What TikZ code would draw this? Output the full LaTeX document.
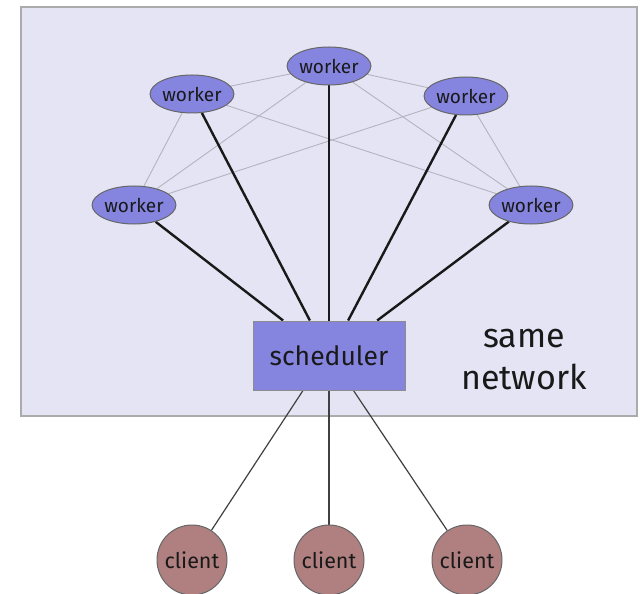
\documentclass[tikz,border=0pt]{standalone}
\usepackage{fontspec}
\setmainfont{Fira Sans}
\usetikzlibrary{shapes.geometric,calc}
\pgfdeclarelayer{links}
\pgfsetlayers{links,main}
\definecolor{netbg}{HTML}{E4E4F4}
\definecolor{netborder}{HTML}{ABABAB}
\definecolor{workerfill}{HTML}{8585E0}
\definecolor{clientfill}{HTML}{B08080}
\definecolor{meshline}{HTML}{B4B4C0}
\begin{document}
\begin{tikzpicture}[x=1pt,y=-1pt,
  network/.style={draw=netborder,line width=2pt,fill=netbg},
  workernode/.style={ellipse,draw=black!60,line width=1pt,fill=workerfill,inner sep=0pt,
    minimum width=70pt,minimum height=38pt,font=\fontsize{19}{19}\selectfont,text=black!90},
  schednode/.style={rectangle,draw=black!45,line width=1pt,fill=workerfill,inner sep=0pt,
    minimum width=152pt,minimum height=69pt,font=\fontsize{26.5}{26.5}\selectfont,text=black!90},
  clientnode/.style={circle,draw=black!60,line width=1pt,fill=clientfill,inner sep=0pt,
    minimum size=70pt,font=\fontsize{21.5}{21.5}\selectfont,text=black!90},
  labeltext/.style={align=center,font=\fontsize{34}{42}\selectfont,text=black!90},
  mesh/.style={draw=meshline,line width=0.9pt},
  spoke/.style={draw=black!90,line width=2.4pt},
  clientlink/.style={draw=black!75,line width=1.2pt}]
\useasboundingbox (0,0) rectangle (641,594);
\begin{pgfonlayer}{links}
\draw[network] (21,7) rectangle (637,416);
\end{pgfonlayer}
\node[workernode] (wt) at (329,66) {worker};
\node[workernode] (wl) at (192,94) {worker};
\node[workernode] (wr) at (466,96) {worker};
\node[workernode] (wfl) at (134,205) {worker};
\node[workernode] (wfr) at (531,205) {worker};
\node[schednode] (s) at (329,355.5) {scheduler};
\node[labeltext] (lbl) at (524,360) {same\\network};
\node[clientnode] (c1) at (192,560) {client};
\node[clientnode] (c2) at (329,560) {client};
\node[clientnode] (c3) at (467,560) {client};
\begin{pgfonlayer}{links}
% mesh
\path[mesh] (wl) -- (wt);
\path[mesh] (wl) -- (wfl);
\path[mesh] (wl) -- (wfr);
\path[mesh] (wt) -- (wr);
\path[mesh] (wt) -- (wfl);
\path[mesh] (wt) -- (wfr);
\path[mesh] (wr) -- (wfr);
\path[mesh] (wr) -- (wfl);
% spokes
\coordinate (s1) at ($(s.north west)!0.2!(s.north east)$);
\coordinate (s2) at ($(s.north west)!0.375!(s.north east)$);
\coordinate (s3) at ($(s.north west)!0.5!(s.north east)$);
\coordinate (s4) at ($(s.north west)!0.625!(s.north east)$);
\coordinate (s5) at ($(s.north west)!0.815!(s.north east)$);
\path[spoke] (wfl) -- (s1);
\path[spoke] (wl) -- (s2);
\path[spoke] (wt) -- (s3);
\path[spoke] (wr) -- (s4);
\path[spoke] (wfr) -- (s5);
% clients
\coordinate (b1) at ($(s.south west)!0.33!(s.south east)$);
\coordinate (b2) at ($(s.south west)!0.5!(s.south east)$);
\coordinate (b3) at ($(s.south west)!0.66!(s.south east)$);
\path[clientlink] (b1) -- (c1);
\path[clientlink] (b2) -- (c2);
\path[clientlink] (b3) -- (c3);
\end{pgfonlayer}
\end{tikzpicture}
\end{document}
